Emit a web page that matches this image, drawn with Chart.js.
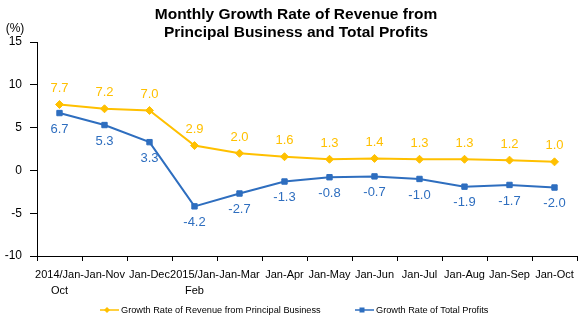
<!DOCTYPE html>
<html>
<head>
<meta charset="utf-8">
<script src="https://cdn.jsdelivr.net/npm/chart.js@4/dist/chart.umd.min.js"></script>
<style>
  html, body { margin: 0; padding: 0; background: #fff; }
  #wrap { width: 585px; height: 322px; }
</style>
</head>
<body>
<div id="wrap"><canvas id="growthChart"></canvas></div>
<script>
const categories = [
  ['2014/Jan-', 'Oct'], 'Jan-Nov', 'Jan-Dec', ['2015/Jan-', 'Feb'], 'Jan-Mar', 'Jan-Apr',
  'Jan-May', 'Jan-Jun', 'Jan-Jul', 'Jan-Aug', 'Jan-Sep', 'Jan-Oct'
];
const revenueGrowth = [7.7, 7.2, 7.0, 2.9, 2.0, 1.6, 1.3, 1.4, 1.3, 1.3, 1.2, 1.0];
const profitGrowth = [6.7, 5.3, 3.3, -4.2, -2.7, -1.3, -0.8, -0.7, -1.0, -1.9, -1.7, -2.0];
const yTicks = [-10, -5, 0, 5, 10, 15];
const titleLines = ['Monthly Growth Rate of Revenue from', 'Principal Business and Total Profits'];

const YELLOW = '#FFC000';
const BLUE = '#2E6EBF';
const FONT = 'Arial, "Liberation Sans", sans-serif';

// title, unit, value labels and legend are drawn here
const extras = {
  id: 'extras',
  afterDatasetsDraw(chart) {
    const ctx = chart.ctx;
    ctx.save();
    ctx.textBaseline = 'middle';

    // value labels
    ctx.font = '13px ' + FONT;
    ctx.textAlign = 'center';
    chart.data.datasets.forEach((ds, i) => {
      chart.getDatasetMeta(i).data.forEach((pt, j) => {
        ctx.fillStyle = ds.borderColor;
        ctx.fillText(ds.data[j].toFixed(1), pt.x, pt.y + (i === 0 ? -16 : 16));
      });
    });

    // title
    ctx.fillStyle = '#000';
    ctx.font = 'bold 15.5px ' + FONT;
    ctx.fillText(titleLines[0], 296, 15);
    ctx.fillText(titleLines[1], 296, 33);

    // unit
    ctx.font = '12px ' + FONT;
    ctx.fillText('(%)', 15, 29);

    // legend
    const y = 310;
    const items = [
      { x: 100, ds: chart.data.datasets[0], shape: 'diamond' },
      { x: 355, ds: chart.data.datasets[1], shape: 'square' },
    ];
    ctx.textAlign = 'left';
    ctx.font = '9.2px ' + FONT;
    items.forEach(it => {
      const c = it.ds.borderColor;
      ctx.strokeStyle = c;
      ctx.fillStyle = c;
      ctx.lineWidth = 1.5;
      ctx.beginPath(); ctx.moveTo(it.x, y); ctx.lineTo(it.x + 19, y); ctx.stroke();
      const mx = it.x + 7;
      if (it.shape === 'diamond') {
        ctx.beginPath();
        ctx.moveTo(mx, y - 3); ctx.lineTo(mx + 3, y); ctx.lineTo(mx, y + 3); ctx.lineTo(mx - 3, y);
        ctx.closePath(); ctx.fill();
      } else {
        ctx.fillRect(mx - 2.5, y - 2.5, 5, 5);
      }
      ctx.fillStyle = '#000';
      ctx.fillText(it.ds.label, it.x + 21, y);
    });
    ctx.restore();
  }
};

new Chart(document.getElementById('growthChart'), {
  type: 'line',
  data: {
    labels: categories,
    datasets: [
      {
        label: 'Growth Rate of Revenue from Principal Business',
        data: revenueGrowth,
        borderColor: YELLOW,
        backgroundColor: YELLOW,
        borderWidth: 2,
        pointStyle: 'rectRot',
        pointRadius: 4,
        pointBorderWidth: 1,
        pointHoverRadius: 4,
        tension: 0,
      },
      {
        label: 'Growth Rate of Total Profits',
        data: profitGrowth,
        borderColor: BLUE,
        backgroundColor: BLUE,
        borderWidth: 2,
        pointStyle: 'rect',
        pointRadius: 3.8,
        pointBorderWidth: 1,
        pointHoverRadius: 3.8,
        tension: 0,
      },
    ],
  },
  options: {
    responsive: true,
    maintainAspectRatio: false,
    animation: false,
    layout: { padding: { left: 0, right: 8, top: 42, bottom: 28 } },
    plugins: {
      title: { display: false },
      legend: { display: false },
      tooltip: { enabled: false },
    },
    scales: {
      x: {
        offset: true,
        afterFit(scale) { scale.height = 38; },
        grid: {
          offset: true,
          drawOnChartArea: false,
          drawTicks: true,
          tickLength: 5,
          color: '#000',
        },
        border: { display: true, color: '#000', width: 1 },
        ticks: {
          color: '#000',
          font: { size: 11, family: FONT, lineHeight: 1.45 },
          maxRotation: 0,
          autoSkip: false,
          padding: 6,
        },
      },
      y: {
        min: yTicks[0],
        max: yTicks[yTicks.length - 1],
        afterBuildTicks(scale) {
          scale.ticks = yTicks.map(v => ({ value: v }));
        },
        afterFit(scale) { scale.width = 37; },
        grid: {
          drawOnChartArea: false,
          drawTicks: true,
          tickLength: 7,
          color: '#000',
        },
        border: { display: true, color: '#000', width: 1 },
        ticks: {
          color: '#000',
          font: { size: 12, family: FONT },
          padding: 8,
        },
      },
    },
  },
  plugins: [extras],
});
</script>
</body>
</html>
